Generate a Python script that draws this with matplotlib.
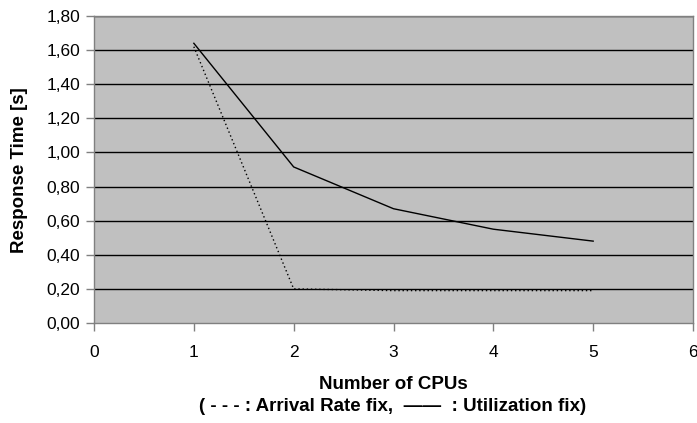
import matplotlib
matplotlib.use("Agg")
import matplotlib.pyplot as plt

plt.rcParams['font.family'] = ['Liberation Sans', 'DejaVu Sans']

cpus = [1, 2, 3, 4, 5]
utilization_fix = [1.64, 0.915, 0.67, 0.55, 0.48]
arrival_rate_fix = [1.62, 0.20, 0.19, 0.19, 0.19]

yticks = [0.0, 0.2, 0.4, 0.6, 0.8, 1.0, 1.2, 1.4, 1.6, 1.8]
xticks = [0, 1, 2, 3, 4, 5, 6]

fig = plt.figure(figsize=(6.97, 4.23), dpi=100)
ax = fig.add_axes([94/697, 1-323/423, (693-94)/697, (323-16)/423])
ax.set_facecolor('#C0C0C0')

for yv in yticks[1:]:
    ax.axhline(yv, color='black', lw=1.0, zorder=1)

ax.plot(cpus, utilization_fix, color='black', lw=1.0, zorder=3)
ax.plot(cpus, arrival_rate_fix, color='black', lw=1.0, linestyle=(0, (1, 2)), zorder=3)

ax.set_xlim(0, 6)
ax.set_ylim(0, 1.8)
ax.set_xticks(xticks)
ax.set_xticklabels([str(x) for x in xticks])
ax.set_yticks(yticks)
ax.set_yticklabels([f"{v:.2f}".replace('.', ',') for v in yticks])
ax.tick_params(axis='both', labelsize=12.5, direction='out', length=6, color='#808080', width=1)
ax.tick_params(axis='y', pad=4)
ax.tick_params(axis='x', pad=10)
for s in ax.spines.values():
    s.set_color('#808080')
    s.set_linewidth(1.0)

fig.text(20/697, 1-170/423, 'Response Time [s]', rotation=90, ha='center', va='center',
         fontsize=13.5, fontweight='bold')
fig.text(393/697, 1-384/423, 'Number of CPUs', ha='center', va='center', fontsize=13.5, fontweight='bold')
fig.text(393/697, 1-406/423, '( - - - : Arrival Rate fix,  \u2014\u2014  : Utilization fix)', ha='center', va='center',
         fontsize=13.5, fontweight='bold')

fig.savefig('out.png', dpi=100)
